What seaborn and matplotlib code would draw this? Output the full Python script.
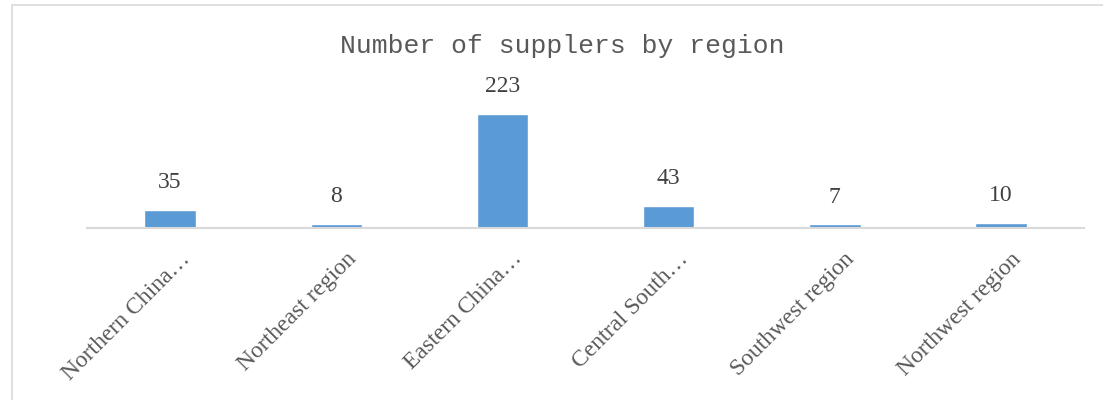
"""
Bar chart of supplier counts per region, styled like the Excel original.
"""

import matplotlib
matplotlib.use('Agg')
import matplotlib.pyplot as plt
import matplotlib.transforms as mtransforms
import seaborn as sns

# data
regions = ['Northern China…', 'Northeast region', 'Eastern China…',
           'Central South…', 'Southwest region', 'Northwest region']
counts = [35, 8, 223, 43, 7, 10]

# style
sns.set_style('white')
plt.rcParams['font.family'] = ['Liberation Serif', 'DejaVu Serif']

fig = plt.figure(figsize=(11.03, 4.0), dpi=100)
ax = fig.add_axes([0.0789, 0.43, 0.9039, 0.32])

sns.barplot(x=regions, y=counts, color='#5b9bd5', saturation=1,
            width=0.31, ax=ax)

ax.set_xlim(-0.5, 5.5)
ax.set_ylim(0, 250)
ax.set_yticks([])
ax.set_xlabel('')
ax.set_ylabel('')

for side in ['top', 'left', 'right']:
    ax.spines[side].set_visible(False)
ax.spines['bottom'].set_color('#d9d9d9')
ax.spines['bottom'].set_linewidth(1.5)

# value labels above bars
ax.bar_label(ax.containers[0], padding=12, fontsize=17, color='#404040')

# rotated category labels
ax.tick_params(axis='x', length=0, pad=20, labelsize=17, labelcolor='#595959')
shift = mtransforms.ScaledTranslation(12 / 72, 0, fig.dpi_scale_trans)
for lab in ax.get_xticklabels():
    lab.set_rotation(45)
    lab.set_ha('right')
    lab.set_va('center')
    lab.set_rotation_mode('anchor')
    lab.set_transform(lab.get_transform() + shift)

# title
fig.text(0.51, 0.885, 'Number of supplers by region', ha='center', va='center',
         fontsize=19, color='#595959', family=['Liberation Mono', 'DejaVu Sans Mono'])

# chart frame
frame = plt.Rectangle((12 / 1103, -0.1), 1.2, (400 - 5) / 400 + 0.1,
                      transform=fig.transFigure, fill=False,
                      edgecolor='#d9d9d9', linewidth=1.2)
fig.patches.append(frame)

fig.savefig('out.png', dpi=100)
